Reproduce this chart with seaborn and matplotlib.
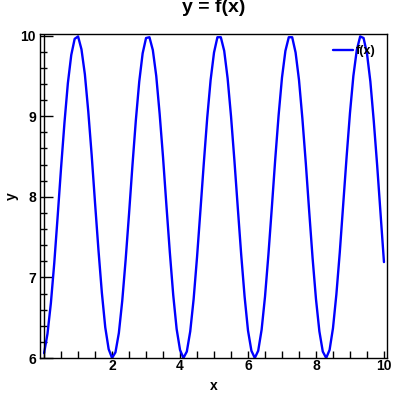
import numpy as np
import pandas as pd
import matplotlib
matplotlib.use("Agg")
import matplotlib.pyplot as plt
from matplotlib.ticker import MultipleLocator
import seaborn as sns

x_vals = [round(0.1 * i, 1) for i in range(101)]
y_vals = [
    6.06, 6.30, 6.68, 7.18, 7.76, 8.36, 8.92, 9.41, 9.76, 9.96,
    9.99, 9.83, 9.52, 9.06, 8.52, 7.92, 7.34, 6.81, 6.38, 6.11,
    6.00, 6.07, 6.31, 6.71, 7.22, 7.79, 8.39, 8.95, 9.43, 9.78,
    9.97, 9.98, 9.82, 9.50, 9.03, 8.49, 7.89, 7.31, 6.78, 6.36,
    6.10, 6.00, 6.08, 6.33, 6.73, 7.25, 7.83, 8.42, 8.98, 9.45,
    9.79, 9.98, 9.98, 9.81, 9.47, 9.00, 8.45, 7.86, 7.28, 6.76,
    6.34, 6.09, 6.00, 6.09, 6.35, 6.76, 7.28, 7.86, 8.46, 9.01,
    9.48, 9.81, 9.98, 9.98, 9.79, 9.45, 8.97, 8.42, 7.82, 7.24,
    6.73, 6.33, 6.08, 6.00, 6.10, 6.37, 6.79, 7.31, 7.90, 8.49,
    9.04, 9.50, 9.82, 9.99, 9.97, 9.78, 9.43, 8.94, 8.39, 7.79,
    7.19,
]
x_ticks = [2, 4, 6, 8, 10]
y_ticks = [6, 7, 8, 9, 10]

df = pd.DataFrame({"x": x_vals, "y": y_vals})

sns.set_style("white")
plt.rcParams["font.family"] = ["Liberation Sans", "DejaVu Sans"]
plt.rcParams["text.color"] = "black"
plt.rcParams["axes.labelcolor"] = "black"
plt.rcParams["xtick.color"] = "black"
plt.rcParams["ytick.color"] = "black"

fig = plt.figure(figsize=(4, 4), dpi=100)
ax = fig.add_axes([0.1, 0.105, 0.8667, 0.81])

sns.lineplot(data=df, x="x", y="y", ax=ax, color="#0000ff", linewidth=1.7, label="f(x)")
ax.axvline(0, color="black", linewidth=1.0)

ax.set_xlim(-0.12, 10.08)
ax.set_ylim(6, 10.02)
ax.set_xticks(x_ticks)
ax.set_xticklabels([str(t) for t in x_ticks], fontweight="bold", fontsize=10)
ax.set_yticks(y_ticks)
ax.set_yticklabels([str(t) for t in y_ticks], fontweight="bold", fontsize=10)
ax.xaxis.set_minor_locator(MultipleLocator(0.5))
ax.yaxis.set_minor_locator(MultipleLocator(0.2))

ax.tick_params(axis="x", which="both", direction="in", length=5, width=1, pad=1,
               bottom=True, top=False)
ax.tick_params(axis="y", which="major", direction="in", length=9, width=1, pad=3,
               left=True, right=False)
ax.tick_params(axis="y", which="minor", direction="in", length=5, width=1,
               left=True, right=False)

for s in ax.spines.values():
    s.set_color("black")
    s.set_linewidth(1.0)

ax.set_xlabel("x", fontsize=10, fontweight="bold", labelpad=4)
ax.set_ylabel("y", fontsize=10, fontweight="bold")
ax.yaxis.set_label_coords(-0.06, 0.5)
ax.set_title("y = f(x)", fontsize=14, fontweight="bold", pad=16)

ax.legend(loc="upper right", frameon=False, handlelength=1.6,
          handletextpad=0.2, borderaxespad=0.5, prop={"weight": "bold", "size": 9})
ax.grid(False)

fig.savefig("out.png", dpi=100)
